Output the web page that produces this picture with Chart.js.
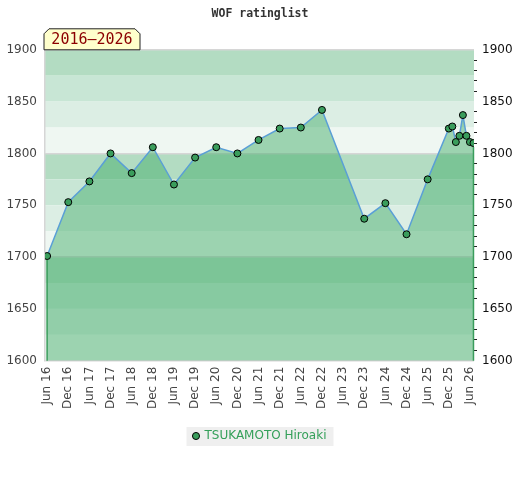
<!DOCTYPE html>
<html>
<head>
<meta charset="utf-8">
<script src="https://cdn.jsdelivr.net/npm/chart.js@4.4.1/dist/chart.umd.min.js"></script>
<style>
  html, body { margin: 0; padding: 0; background: #fff; }
  #wrap { width: 520px; height: 480px; }
</style>
</head>
<body>
<div id="wrap"><canvas id="chart" width="520" height="480"></canvas></div>
<script>
// months counted from Jun 2016
const months = [0, 6, 12, 18, 24, 30, 36, 42, 48, 54, 60, 66, 72, 78,
                90, 96, 102, 108, 114, 115, 116, 117, 118, 119, 120, 121];
const ratings = [1701, 1753, 1773, 1800, 1781, 1806, 1770, 1796, 1806, 1800, 1813, 1824, 1825, 1842,
                 1737, 1752, 1722, 1775, 1824, 1826, 1811, 1817, 1837, 1817, 1811, 1810];
const tickMonths = [0, 6, 12, 18, 24, 30, 36, 42, 48, 54, 60, 66, 72, 78, 84, 90, 96, 102, 108, 114, 120];
const tickLabels = ["Jun 16", "Dec 16", "Jun 17", "Dec 17", "Jun 18", "Dec 18", "Jun 19", "Dec 19",
                    "Jun 20", "Dec 20", "Jun 21", "Dec 21", "Jun 22", "Dec 22", "Jun 23", "Dec 23",
                    "Jun 24", "Dec 24", "Jun 25", "Dec 25", "Jun 26"];
const player = "TSUKAMOTO Hiroaki";
const period = "2016\u20132026";

const bandColors = ["#b3dcc2", "#c8e6d5", "#dceee4", "#eff7f2"];
const green = "#3a9d5c";

const points = months.map((m, i) => ({ x: m, y: ratings[i] }));

const bands = {
  id: "bands",
  beforeDraw(chart) {
    const ctx = chart.ctx, a = chart.chartArea, y = chart.scales.y;
    ctx.save();
    for (let v = 1900, k = 0; v > 1600; v -= 25, k++) {
      const t = y.getPixelForValue(v), b = y.getPixelForValue(v - 25);
      ctx.fillStyle = bandColors[k % 4];
      ctx.fillRect(a.left, t, a.right - a.left, b - t);
    }
    // legend background
    const hb = chart.legend.legendHitBoxes[0];
    if (hb) {
      ctx.fillStyle = "#efefef";
      ctx.fillRect(hb.left - 7, hb.top - 3, hb.width + 14, hb.height + 7);
    }
    ctx.restore();
  },
  afterDatasetsDraw(chart) {
    const ctx = chart.ctx, a = chart.chartArea;
    const pts = chart.getDatasetMeta(0).data;
    const first = pts[0], last = pts[pts.length - 1];
    ctx.save();
    ctx.strokeStyle = green;
    ctx.lineWidth = 1.5;
    ctx.beginPath();
    ctx.moveTo(first.x, first.y + 4); ctx.lineTo(first.x, a.bottom);
    ctx.moveTo(last.x, last.y + 4); ctx.lineTo(last.x, a.bottom);
    ctx.stroke();
    ctx.restore();
  },
  afterDraw(chart) {
    const ctx = chart.ctx, a = chart.chartArea;
    const l = a.left - 1, r = a.left + 95, t = a.top - 21, b = a.top, c = 5;
    ctx.save();
    ctx.beginPath();
    ctx.moveTo(l, b); ctx.lineTo(l, t + c); ctx.lineTo(l + c, t);
    ctx.lineTo(r - c, t); ctx.lineTo(r, t + c); ctx.lineTo(r, b);
    ctx.closePath();
    ctx.fillStyle = "#ffffcc";
    ctx.fill();
    ctx.strokeStyle = "#222";
    ctx.lineWidth = 1;
    ctx.stroke();
    ctx.fillStyle = "#8b0000";
    ctx.font = "15px 'DejaVu Sans Mono'";
    ctx.textAlign = "center";
    ctx.textBaseline = "middle";
    ctx.fillText(period, (l + r) / 2, t + 11);
    ctx.restore();
  }
};

new Chart(document.getElementById("chart"), {
  type: "line",
  data: {
    datasets: [{
      label: player,
      data: points,
      borderColor: "#5a9fd6",
      borderWidth: 1.5,
      backgroundColor: "rgba(64,172,104,0.48)",
      fill: "start",
      tension: 0,
      pointRadius: 3.5,
      pointBackgroundColor: green,
      pointBorderColor: "#000",
      pointBorderWidth: 1
    }]
  },
  options: {
    responsive: false,
    animation: false,
    layout: { padding: { top: 0, bottom: 28, left: 0, right: 0 } },
    plugins: {
      title: {
        display: true,
        text: "WOF ratinglist",
        color: "#333",
        font: { family: "'DejaVu Sans Mono'", size: 11.5, weight: "bold" },
        padding: { top: 7, bottom: 29 }
      },
      legend: {
        position: "bottom",
        labels: {
          usePointStyle: true,
          boxWidth: 5,
          boxHeight: 5,
          color: "#35a05a",
          font: { family: "'DejaVu Sans'", size: 12 },
          padding: 10
        }
      },
      tooltip: { enabled: false }
    },
    scales: {
      x: {
        type: "linear",
        min: -0.6,
        max: 121.15,
        afterBuildTicks(scale) { scale.ticks = tickMonths.map(v => ({ value: v })); },
        afterFit(scale) { scale.height += 5; },
        ticks: {
          callback: (v) => tickLabels[tickMonths.indexOf(v)],
          minRotation: 90,
          maxRotation: 90,
          autoSkip: false,
          padding: 6,
          color: "#444",
          font: { family: "'DejaVu Sans'", size: 12 }
        },
        grid: { display: false, drawTicks: false },
        border: { display: false }
      },
      y: {
        position: "left",
        min: 1600,
        max: 1900,
        afterBuildTicks(scale) {
          const t = [];
          for (let v = 1600; v <= 1900; v += 50) t.push({ value: v });
          scale.ticks = t;
        },
        afterFit(scale) { scale.width = 45; },
        ticks: {
          callback: (v) => String(v),
          padding: 8,
          color: "#444",
          font: { family: "'DejaVu Sans'", size: 12 }
        },
        grid: {
          drawTicks: false,
          color: (c) => c.tick && c.tick.value % 100 === 0 ? "#d6d6d6" : "rgba(0,0,0,0)",
          lineWidth: 1.5
        },
        border: { display: true, color: "#d6d6d6", width: 1.5 }
      },
      y2: {
        position: "right",
        min: 1600,
        max: 1900,
        afterBuildTicks(scale) {
          const t = [];
          for (let v = 1600; v <= 1900; v += 10) t.push({ value: v });
          scale.ticks = t;
        },
        afterFit(scale) { scale.width = 46; },
        ticks: {
          autoSkip: false,
          callback: (v) => v % 50 === 0 ? String(v) : "",
          padding: 5,
          color: "#111",
          font: { family: "'DejaVu Sans'", size: 12 }
        },
        grid: {
          drawOnChartArea: false,
          tickLength: 3,
          tickColor: (c) => c.tick && c.tick.value % 50 === 0 ? "rgba(0,0,0,0)" : "#222",
          color: "rgba(0,0,0,0)"
        },
        border: { display: false }
      }
    }
  },
  plugins: [bands]
});
</script>
</body>
</html>
